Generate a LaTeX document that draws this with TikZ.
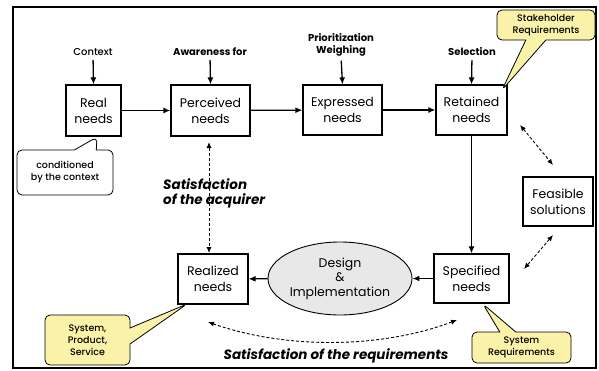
\documentclass[tikz,border=0pt]{standalone}
\usepackage{fontspec}
\setmainfont{Poppins}
\newfontfamily\notefont{Poppins Medium}
\usetikzlibrary{shapes.geometric,shapes.callouts,arrows.meta}
\newlength{\du}
\setlength{\du}{1pt}
\definecolor{notefill}{rgb}{0.976, 0.949, 0.659}
\definecolor{ovalfill}{rgb}{0.910, 0.910, 0.910}
\tikzset{
  needbox/.style={draw, line width=1.2pt, fill=white, align=center, inner sep=0pt,
    font=\fontsize{12.5}{16}\selectfont},
  tag/.style={font=\bfseries\fontsize{10}{12}\selectfont, align=center, inner sep=0pt},
  goal/.style={font=\bfseries\itshape\fontsize{13.5}{15}\selectfont, align=left, inner sep=0pt},
  flow/.style={line width=1.3pt, -{Latex[length=7pt,width=6pt]}},
  link/.style={line width=0.9pt, dash pattern=on 3pt off 2pt,
    {Latex[length=6pt,width=5pt]}-{Latex[length=6pt,width=5pt]}},
  note/.style={rectangle callout, draw, rounded corners=5pt, line width=0.8pt, align=center,
    inner sep=0pt, font=\notefont\fontsize{9.5}{12}\selectfont}
}

\begin{document}
\begin{tikzpicture}
\pgftransformxscale{1.000000}
\pgftransformyscale{-1.000000}
\useasboundingbox (0\du,0\du) rectangle (599\du,370\du);
\draw[line width=1.6pt] (13\du,7\du) rectangle (596\du,368\du);
% needs
\node[needbox, minimum width=55\du, minimum height=51\du] (real) at (93.5\du,110.5\du){Real\\needs};
\node[needbox, minimum width=79\du, minimum height=51\du] (perceived) at (210.5\du,110.5\du){Perceived\\needs};
\node[needbox, minimum width=79\du, minimum height=50\du] (expressed) at (342.5\du,110\du){Expressed\\needs};
\node[needbox, minimum width=71\du, minimum height=50\du] (retained) at (471.5\du,110\du){Retained\\needs};
\node[needbox, minimum width=70\du, minimum height=49\du] (feasible) at (558\du,201.5\du){Feasible\\solutions};
\node[needbox, minimum width=75\du, minimum height=49\du] (specified) at (471.5\du,278.5\du){Specified\\needs};
\node[needbox, minimum width=70\du, minimum height=50\du] (realized) at (213\du,279\du){Realized\\needs};
\node[ellipse, draw, line width=0.9pt, fill=ovalfill, minimum width=144\du, minimum height=73\du,
  inner sep=0pt, align=center, font=\fontsize{12.5}{14.5}\selectfont] (design) at (340\du,278.5\du){Design\\\&\\Implementation};
% inputs
\node[tag, font=\notefont\fontsize{10}{12}\selectfont] (context) at (93\du,52\du){Context};
\node[tag] (awareness) at (210\du,52\du){Awareness for};
\node[tag] (weighing) at (341\du,45\du){Prioritization\\Weighing};
\node[tag] (selection) at (472\du,52\du){Selection};
\draw[flow, shorten <=4\du] (context.south) -- (real.north);
\draw[flow, shorten <=4\du] (awareness.south) -- (perceived.north);
\draw[flow, shorten <=4\du] (weighing.south) -- (expressed.north);
\draw[flow, shorten <=4\du] (selection.south) -- (retained.north);
% flow
\draw[flow] (real) -- (perceived);
\draw[flow] (perceived) -- (expressed);
\draw[flow] (expressed) -- (retained);
\draw[flow] (retained) -- (specified);
\draw[flow] (specified) -- (design);
\draw[flow] (design) -- (realized);
% satisfaction
\coordinate (acqtop) at (209\du,142\du);
\coordinate (acqbot) at (209\du,253\du);
\draw[link] (acqtop) -- (acqbot);
\node[goal, anchor=west] (acquirer) at (163\du,193\du){Satisfaction\\of the acquirer};
\coordinate (solA) at (520\du,125\du);
\coordinate (solB) at (553\du,165\du);
\draw[link] (solA) -- (solB);
\coordinate (solC) at (553\du,235\du);
\coordinate (solD) at (524\du,269\du);
\draw[link] (solC) -- (solD);
\coordinate (reqA) at (457\du,320\du);
\coordinate (reqB) at (208\du,322\du);
\draw[link] (reqA) .. controls (380\du,349\du) and (285\du,349\du) .. (reqB);
\node[goal] (requirements) at (336\du,356\du){Satisfaction of the requirements};
% notes
\coordinate (tipreal) at (97\du,137\du);
\coordinate (tipretained) at (502\du,90\du);
\coordinate (tiprealized) at (187\du,304\du);
\coordinate (tipspecified) at (483\du,304\du);
\node[note, fill=white, minimum width=96\du, minimum height=45\du, callout absolute pointer=(tipreal),
  callout pointer width=22\du] (conditioned) at (65\du,172.5\du){conditioned\\by the context};
\node[note, fill=notefill, minimum width=98\du, minimum height=30\du, callout absolute pointer=(tipretained),
  callout pointer width=20\du] (stakeholder) at (546\du,25\du){Stakeholder\\Requirements};
\node[note, fill=notefill, minimum width=85\du, minimum height=50\du, callout absolute pointer=(tiprealized),
  callout pointer width=16\du] (product) at (87.5\du,340\du){System,\\Product,\\Service};
\node[note, fill=notefill, minimum width=99\du, minimum height=31\du, callout absolute pointer=(tipspecified),
  callout pointer width=16\du] (sysreq) at (521.5\du,347.5\du){System\\Requirements};
\end{tikzpicture}
\end{document}
